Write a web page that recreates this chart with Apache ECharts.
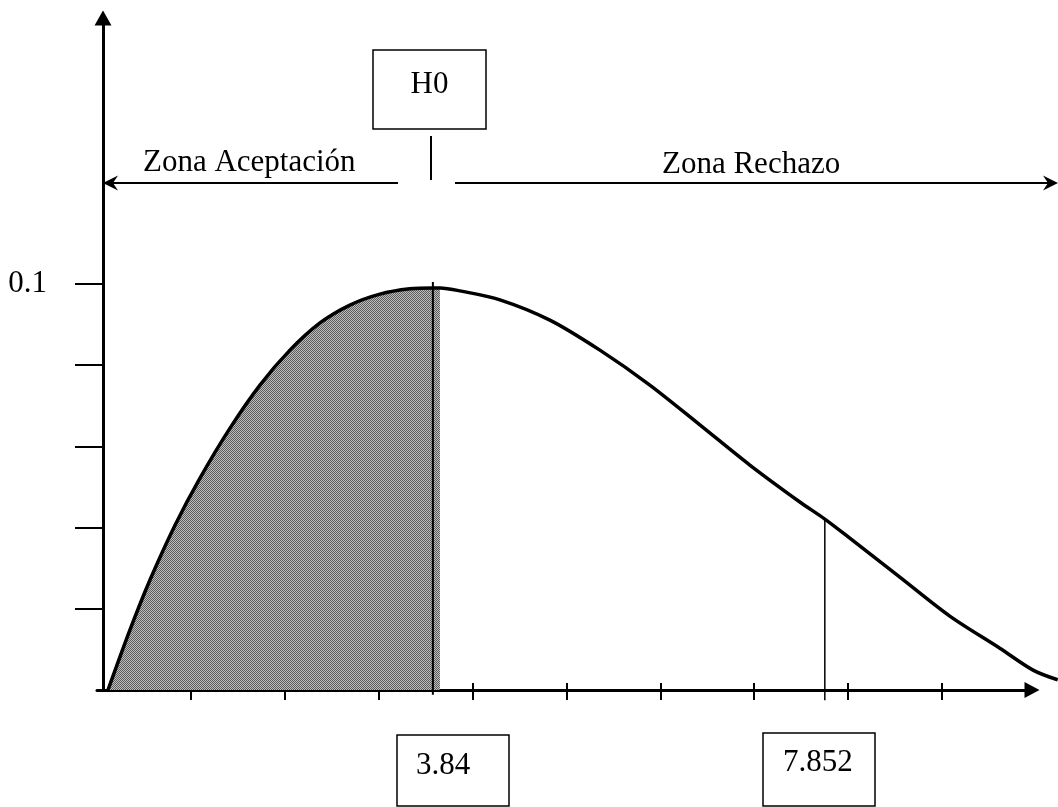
<!DOCTYPE html>
<html>
<head>
<meta charset="utf-8">
<script src="https://cdn.jsdelivr.net/npm/echarts@6/dist/echarts.min.js"></script>
<style>
html,body{margin:0;padding:0;background:#fff;}
#chart{width:1058px;height:807px;}
</style>
</head>
<body>
<div id="chart"></div>
<script>
// ---- data ----
const curveX = [0.117, 0.351, 0.564, 0.831, 1.097, 1.417, 1.736, 2.055, 2.375, 2.694, 3.014, 3.333, 3.578, 3.653, 3.866, 4.292, 4.824, 5.357, 5.889, 6.422, 6.954, 7.487, 7.753, 8.019, 8.552, 9.084, 9.617, 9.971, 10.234];
const curveY = [0.0000, 0.0148, 0.0271, 0.0406, 0.0522, 0.0645, 0.0751, 0.0837, 0.0904, 0.0948, 0.0975, 0.0988, 0.0990, 0.0990, 0.0983, 0.0961, 0.0911, 0.0837, 0.0751, 0.0653, 0.0554, 0.0463, 0.0421, 0.0374, 0.0278, 0.0182, 0.0103, 0.0049, 0.0025];
const shadeEndX = 3.653;           // right edge of the shaded acceptance area
const h0LineX = 3.578;             // vertical line under H0
const critLineX = 7.753;           // vertical line at 7.852 label
const critLineTop = 0.0421;
const xTicks = [1, 2, 3, 4, 5, 6, 7, 8, 9];
const yTicks = [0.02, 0.04, 0.06, 0.08, 0.1];
const yLabels = [0.1];
const boxLabels = ['3.84', '7.852'];
const h0Label = 'H0';
const zoneLabels = ['Zona Aceptación', 'Zona Rechazo'];

const FONT = "'Liberation Serif','Times New Roman',serif";
const FS = 31;

const curve = curveX.map((x, i) => [x, curveY[i]]);
const shade = curve.filter(p => p[0] <= shadeEndX + 1e-9);

// checker pattern for the shaded area
const pc = document.createElement('canvas');
pc.width = 2; pc.height = 2;
const pctx = pc.getContext('2d');
pctx.fillStyle = '#bcbcbc'; pctx.fillRect(0, 0, 2, 2);
pctx.fillStyle = '#5e5e5e'; pctx.fillRect(0, 0, 1, 1); pctx.fillRect(1, 1, 1, 1);

const chart = echarts.init(document.getElementById('chart'), null, {renderer: 'canvas'});

const GL = 97, GT = 18, GB = 117, GR = 26;
const XMAX = 9.96, YMAX = 0.1655;
const pxPerX = (1058 - GL - GR) / XMAX;
const XMAX_FULL = (1058 - GL) / pxPerX;   // same scale, extended to the right edge for the marks

const option = {
  animation: false,
  backgroundColor: '#ffffff',
  grid: [
    {left: GL, right: GR, top: GT, bottom: GB},
    {left: GL, right: 0, top: GT, bottom: GB}
  ],
  xAxis: [{
    gridIndex: 0, type: 'value', min: 0, max: XMAX,
    axisLine: {show: true, onZero: true, symbol: ['none', 'triangle'], symbolSize: [16, 15],
      lineStyle: {color: '#000', width: 3}},
    axisTick: {show: true, customValues: xTicks, length: 10, inside: false, lineStyle: {color: '#000', width: 2}},
    axisLabel: {show: false},
    splitLine: {show: false}
  }, {
    gridIndex: 0, type: 'value', min: 0, max: XMAX, position: 'bottom',
    axisLine: {show: false},
    axisTick: {show: true, customValues: xTicks, length: 7, inside: true, lineStyle: {color: '#000', width: 2}},
    axisLabel: {show: false},
    splitLine: {show: false}
  }, {
    gridIndex: 1, type: 'value', min: 0, max: XMAX_FULL, show: false,
    splitLine: {show: false}
  }],
  yAxis: [{
    gridIndex: 0, type: 'value', min: 0, max: YMAX, offset: -6,
    axisLine: {show: true, onZero: false, symbol: ['none', 'triangle'], symbolSize: [17, 15],
      lineStyle: {color: '#000', width: 3}},
    axisTick: {show: true, customValues: yTicks, length: 28, lineStyle: {color: '#000', width: 2}},
    axisLabel: {show: true, customValues: yLabels, margin: 56, color: '#000',
      fontFamily: FONT, fontSize: FS, formatter: v => String(v)},
    splitLine: {show: false}
  }, {
    gridIndex: 1, type: 'value', min: 0, max: YMAX, show: false,
    splitLine: {show: false}
  }],
  series: [{
    type: 'line', xAxisIndex: 2, yAxisIndex: 1, data: shade, showSymbol: false, smooth: 0.3, clip: false, z: 2,
    lineStyle: {width: 0, opacity: 0},
    areaStyle: {color: {image: pc, repeat: 'repeat'}, opacity: 1}
  }, {
    type: 'line', xAxisIndex: 2, yAxisIndex: 1, data: curve, showSymbol: false, smooth: 0.3, clip: false, z: 4,
    lineStyle: {color: '#000', width: 3.5}
  }, {
    type: 'line', xAxisIndex: 2, yAxisIndex: 1, data: [[h0LineX, -0.0012], [h0LineX, 0.1005]], showSymbol: false, clip: false, z: 5,
    lineStyle: {color: '#000', width: 2}
  }, {
    type: 'line', xAxisIndex: 2, yAxisIndex: 1, data: [[critLineX, -0.0025], [critLineX, critLineTop]], showSymbol: false, clip: false, z: 5,
    lineStyle: {color: '#000', width: 1.5}
  }]
};
chart.setOption(option);

// ---- annotations (boxes, arrows, zone labels) ----
const txt = (text, x, y, align) => ({
  type: 'text', x: x, y: y, z: 10,
  style: {text: text, fill: '#000', font: FS + 'px ' + FONT, textAlign: align || 'left', textVerticalAlign: 'middle'}
});
const rect = (x, y, w, h) => ({
  type: 'rect', z: 10, shape: {x: x, y: y, width: w, height: h},
  style: {fill: 'none', stroke: '#000', lineWidth: 1.5}
});
const seg = (x1, y1, x2, y2, w) => ({
  type: 'line', z: 10, shape: {x1: x1, y1: y1, x2: x2, y2: y2},
  style: {stroke: '#000', lineWidth: w || 2}
});
const head = (pts) => ({type: 'polygon', z: 10, shape: {points: pts}, style: {fill: '#000'}});

chart.setOption({
  graphic: [
    rect(373, 50, 113, 79),
    txt(h0Label, 429.5, 85, 'center'),
    seg(431, 136, 431, 180, 2),
    seg(398, 183, 110, 183, 2),
    head([[103, 183], [118, 175.5], [113, 183], [118, 190.5]]),
    seg(455, 183, 1050, 183, 2),
    head([[1058, 183], [1043, 175.5], [1048, 183], [1043, 190.5]]),
    txt(zoneLabels[0], 143, 163),
    txt(zoneLabels[1], 662, 165),
    rect(397, 735, 112, 71),
    txt(boxLabels[0], 416, 766),
    rect(763, 733, 112, 73),
    txt(boxLabels[1], 783, 763)
  ]
});
</script>
</body>
</html>
